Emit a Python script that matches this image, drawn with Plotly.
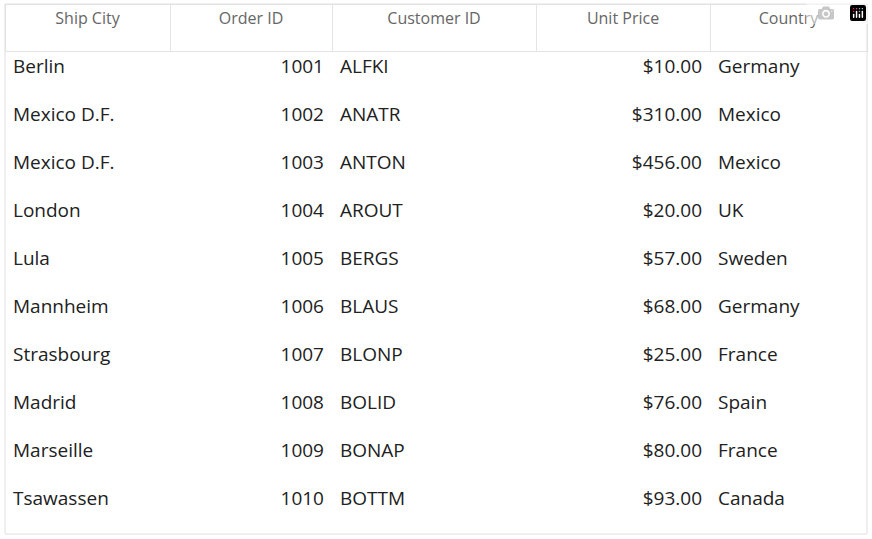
import plotly.graph_objects as go

headers = ["Ship City", "Order ID", "Customer ID", "Unit Price", "Country"]
ship_city = ["Berlin", "Mexico D.F.", "Mexico D.F.", "London", "Lula", "Mannheim",
             "Strasbourg", "Madrid", "Marseille", "Tsawassen"]
order_id = [1001, 1002, 1003, 1004, 1005, 1006, 1007, 1008, 1009, 1010]
customer_id = ["ALFKI", "ANATR", "ANTON", "AROUT", "BERGS", "BLAUS", "BLONP",
               "BOLID", "BONAP", "BOTTM"]
unit_price = [10, 310, 456, 20, 57, 68, 25, 76, 80, 93]
country = ["Germany", "Mexico", "Mexico", "UK", "Sweden", "Germany", "France",
           "Spain", "France", "Canada"]

price_text = ["${:,.2f}".format(p) for p in unit_price]

table = go.Table(
    columnwidth=[165, 162, 204, 174, 157],
    header=dict(
        values=headers,
        align="center",
        height=47,
        fill_color="white",
        line_color="#e4e4e4",
        font=dict(family="Open Sans", size=16, color="#666666"),
    ),
    cells=dict(
        values=[ship_city, order_id, customer_id, price_text, country],
        align=["left", "right", "left", "right", "left"],
        height=48,
        fill_color="white",
        line_color="white",
        font=dict(family="Open Sans", size=19, color="#212121"),
    ),
)

fig = go.Figure(data=[table])
fig.update_layout(
    width=872, height=539,
    margin=dict(l=5, r=5, t=4, b=5),
    paper_bgcolor="white",
    shapes=[dict(type="rect", xref="paper", yref="paper", x0=0, x1=1, y0=0, y1=1,
                 line=dict(color="#e0e0e0", width=1))],
)
fig.write_html("out.html", post_script="document.body.style.margin='0';")
